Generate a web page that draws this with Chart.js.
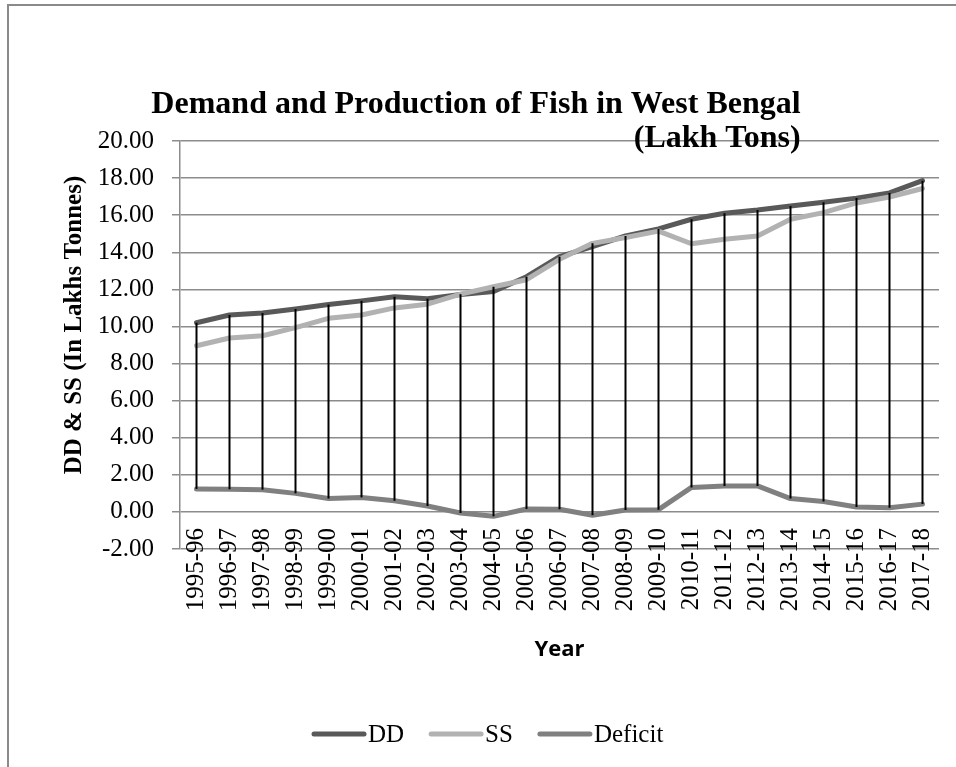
<!DOCTYPE html>
<html>
<head>
<meta charset="utf-8">
<title>Demand and Production of Fish in West Bengal</title>
<script src="https://cdn.jsdelivr.net/npm/chart.js@4.4.1/dist/chart.umd.min.js"></script>
<style>
  html, body { margin: 0; padding: 0; background: #ffffff; }
  #wrap { position: relative; width: 956px; height: 767px; overflow: hidden; }
  #wrap canvas { position: absolute; left: 0; top: 0; }
  #frame {
    position: absolute; left: 7px; top: 4px; right: -10px; bottom: -10px;
    border-left: 2px solid #8a8a8a; border-top: 2px solid #8a8a8a;
    pointer-events: none;
  }
</style>
</head>
<body>
<div id="wrap">
  <canvas id="chart" width="956" height="767"></canvas>
  <div id="frame"></div>
</div>
<script>
// Financial years on the category axis
const years = [
  '1995-96', '1996-97', '1997-98', '1998-99', '1999-00', '2000-01', '2001-02',
  '2002-03', '2003-04', '2004-05', '2005-06', '2006-07', '2007-08', '2008-09',
  '2009-10', '2010-11', '2011-12', '2012-13', '2013-14', '2014-15', '2015-16',
  '2016-17', '2017-18'
];

// Demand (DD), supply / production (SS) and the gap between them, lakh tonnes
const ddValues = [
  10.20, 10.62, 10.72, 10.94, 11.18, 11.38, 11.60, 11.50, 11.72, 11.88, 12.68,
  13.76, 14.30, 14.88, 15.26, 15.78, 16.10, 16.28, 16.50, 16.70, 16.92, 17.20, 17.86
];
const ssValues = [
  8.96, 9.38, 9.50, 9.94, 10.44, 10.62, 11.00, 11.20, 11.74, 12.14, 12.52,
  13.62, 14.48, 14.80, 15.14, 14.46, 14.70, 14.88, 15.78, 16.14, 16.66, 16.98, 17.44
];
const deficitValues = [
  1.24, 1.22, 1.20, 1.00, 0.72, 0.78, 0.60, 0.32, -0.06, -0.24, 0.16,
  0.14, -0.18, 0.10, 0.12, 1.32, 1.40, 1.40, 0.72, 0.56, 0.26, 0.22, 0.42
];

// Value axis range and tick step
const yMin = -2;
const yMax = 20;
const yStep = 2;

// Texts
const titleLines = ['Demand and Production of Fish in West Bengal', '(Lakh Tons)'];
const yAxisTitle = 'DD & SS (In Lakhs Tonnes)';
const xAxisTitle = 'Year';
const seriesNames = ['DD', 'SS', 'Deficit'];

const SERIF = '"Liberation Serif", "Times New Roman", serif';
const seriesColors = ['#595959', '#b2b2b2', '#808080'];

// Vertical high-low lines joining the highest and lowest series value per year
const hiLoLines = {
  id: 'hiLoLines',
  afterDatasetsDraw(chart) {
    const { ctx, scales: { x, y } } = chart;
    ctx.save();
    ctx.strokeStyle = '#000000';
    ctx.lineWidth = 2;
    chart.data.labels.forEach((label, i) => {
      const vals = chart.data.datasets.map(d => d.data[i]);
      const hi = Math.max(...vals);
      const lo = Math.min(...vals);
      const px = x.getPixelForValue(i);
      ctx.beginPath();
      ctx.moveTo(px, y.getPixelForValue(hi));
      ctx.lineTo(px, y.getPixelForValue(lo));
      ctx.stroke();
    });
    ctx.restore();
  }
};

// Two-line title, rotated value-axis title and the bottom legend
const chartTexts = {
  id: 'chartTexts',
  afterDraw(chart) {
    const { ctx } = chart;
    ctx.save();
    ctx.fillStyle = '#000000';

    // title: first line centred, second line flush with its right end
    ctx.font = 'bold 32px ' + SERIF;
    ctx.textBaseline = 'alphabetic';
    const w1 = ctx.measureText(titleLines[0]).width;
    const cx = 476;
    ctx.textAlign = 'center';
    ctx.fillText(titleLines[0], cx, 113);
    ctx.textAlign = 'right';
    ctx.fillText(titleLines[1], cx + w1 / 2, 147);

    // value-axis title
    ctx.save();
    ctx.translate(75, 325);
    ctx.rotate(-Math.PI / 2);
    ctx.font = 'bold 25px ' + SERIF;
    ctx.textAlign = 'center';
    ctx.textBaseline = 'middle';
    ctx.fillText(yAxisTitle, 0, 0);
    ctx.restore();

    // legend
    ctx.font = '25px ' + SERIF;
    ctx.textAlign = 'left';
    ctx.textBaseline = 'middle';
    const ly = 734;
    let lx = 312;
    chart.data.datasets.forEach(ds => {
      ctx.strokeStyle = ds.borderColor;
      ctx.lineWidth = 5;
      ctx.lineCap = 'round';
      ctx.beginPath();
      ctx.moveTo(lx + 2, ly);
      ctx.lineTo(lx + 52, ly);
      ctx.stroke();
      lx += 56;
      ctx.fillText(ds.label, lx, ly + 1);
      lx += ctx.measureText(ds.label).width + 25;
    });
    ctx.restore();
  }
};

const lineDataset = (label, data, color, order) => ({
  label,
  data,
  borderColor: color,
  backgroundColor: color,
  borderWidth: 5,
  borderJoinStyle: 'round',
  borderCapStyle: 'round',
  pointRadius: 0,
  pointHoverRadius: 0,
  tension: 0,
  fill: false,
  order
});

new Chart(document.getElementById('chart'), {
  type: 'line',
  data: {
    labels: years,
    datasets: [
      lineDataset(seriesNames[0], ddValues, seriesColors[0], 3),
      lineDataset(seriesNames[1], ssValues, seriesColors[1], 2),
      lineDataset(seriesNames[2], deficitValues, seriesColors[2], 1)
    ]
  },
  options: {
    responsive: false,
    animation: false,
    devicePixelRatio: 1,
    layout: { padding: { top: 141, right: 17, bottom: 218, left: 0 } },
    plugins: {
      legend: { display: false },
      title: { display: false },
      tooltip: { enabled: false }
    },
    scales: {
      x: {
        type: 'category',
        // the category axis crosses the value axis at zero
        position: { y: 0 },
        offset: true,
        grid: { display: false, drawTicks: false },
        border: { display: false },
        ticks: {
          color: '#000000',
          font: { family: SERIF, size: 25 },
          minRotation: 90,
          maxRotation: 90,
          autoSkip: false,
          padding: 16
        },
        title: {
          display: true,
          text: xAxisTitle,
          color: '#000000',
          font: { family: '"Open Sans", "Liberation Sans", sans-serif', size: 22, weight: 'bold' },
          padding: { top: 0, bottom: 0 }
        },
        afterFit(scale) {
          scale.height = 151;
          // the rotated end labels fit inside the plot, no side padding needed
          scale.paddingLeft = 0;
          scale.paddingRight = 0;
        }
      },
      y: {
        min: yMin,
        max: yMax,
        grid: {
          color: '#8c8c8c',
          lineWidth: 1.5,
          drawTicks: true,
          tickLength: 8,
          tickColor: '#8c8c8c'
        },
        border: { display: true, color: '#8c8c8c', width: 1.5 },
        ticks: {
          stepSize: yStep,
          color: '#000000',
          font: { family: SERIF, size: 25 },
          padding: 18,
          callback: v => Number(v).toFixed(2)
        },
        afterFit(scale) { scale.width = 180; }
      }
    }
  },
  plugins: [hiLoLines, chartTexts]
});
</script>
</body>
</html>
